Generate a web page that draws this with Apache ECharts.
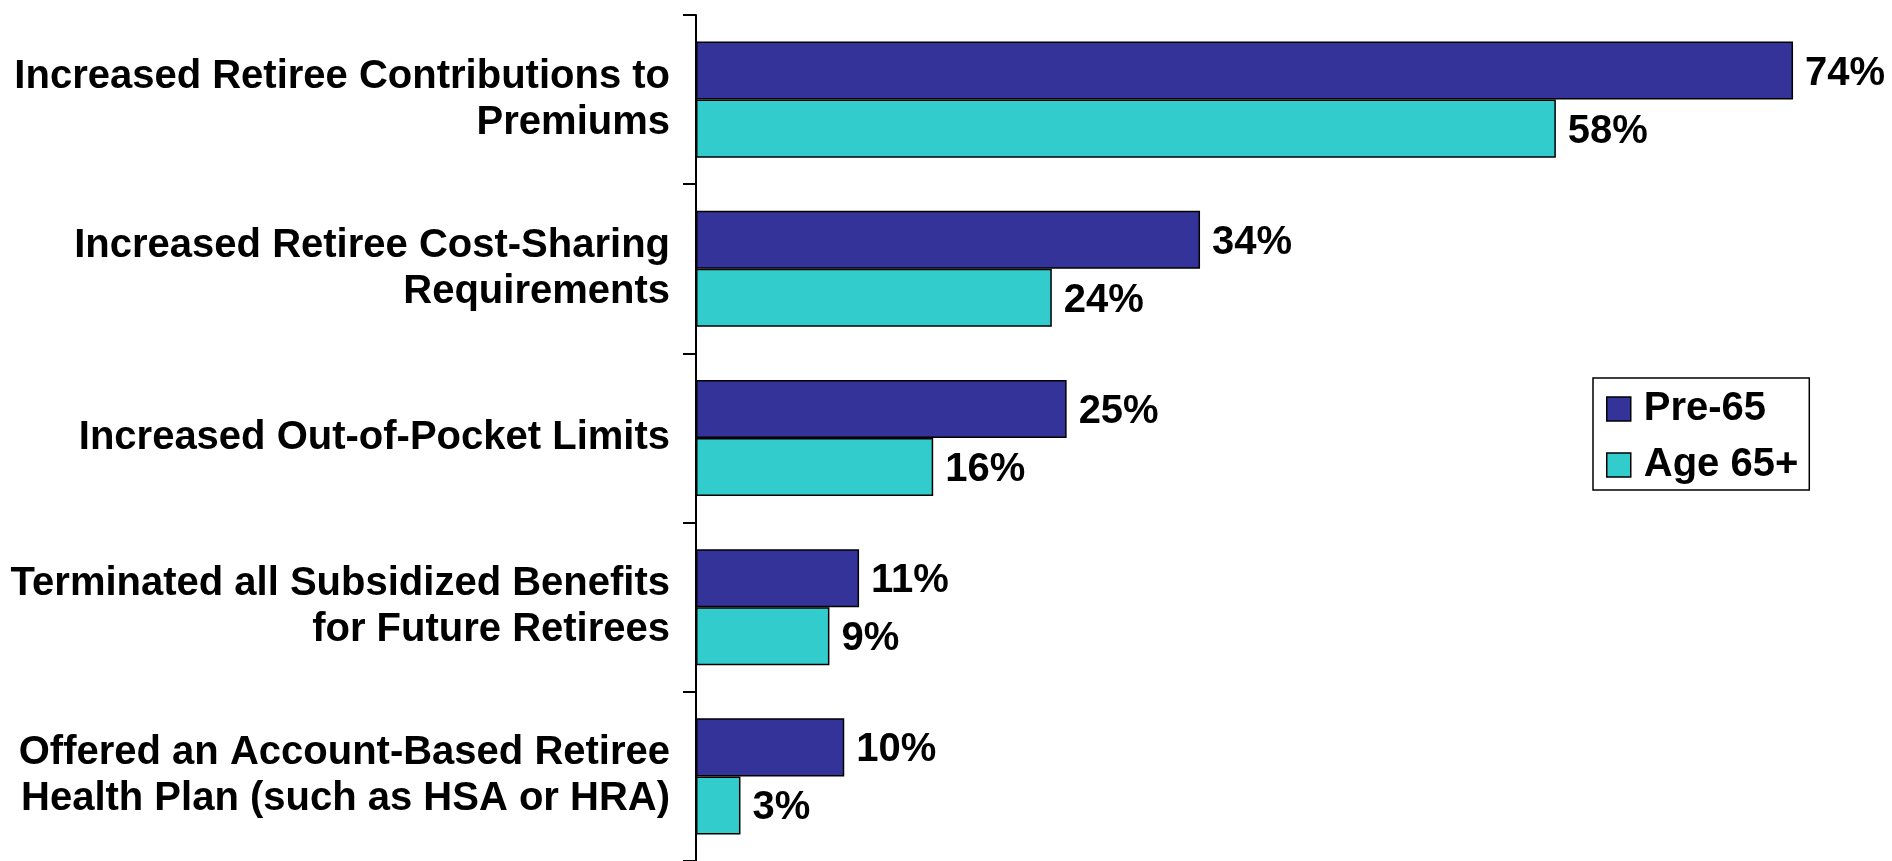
<!DOCTYPE html>
<html>
<head>
<meta charset="utf-8">
<script src="https://cdn.jsdelivr.net/npm/echarts@6/dist/echarts.min.js"></script>
<style>
html,body{margin:0;padding:0;background:#fff;}
#chart{width:1892px;height:861px;}
</style>
</head>
<body>
<div id="chart"></div>
<script>
const categories = [
  "Increased Retiree Contributions to\nPremiums",
  "Increased Retiree Cost-Sharing\nRequirements",
  "Increased Out-of-Pocket Limits",
  "Terminated all Subsidized Benefits\nfor Future Retirees",
  "Offered an Account-Based Retiree\nHealth Plan (such as HSA or HRA)"
];
const seriesNames = ["Pre-65", "Age 65+"];
const pre65 = [74, 34, 25, 11, 10];
const age65 = [58, 24, 16, 9, 3];
const colors = ["#333399", "#33CCCC"];

const font = '"Liberation Sans", Arial, sans-serif';
const chart = echarts.init(document.getElementById('chart'));

function barSeries(name, data, color) {
  return {
    name: name,
    type: 'bar',
    data: data,
    barGap: '0%',
    barCategoryGap: '31.4%',
    itemStyle: { color: color, borderColor: '#000', borderWidth: 1.5 },
    label: {
      show: true,
      position: 'right',
      distance: 12,
      offset: [0, 3],
      formatter: '{c}%',
      color: '#000',
      fontFamily: font,
      fontWeight: 'bold',
      fontSize: 40
    },
    animation: false
  };
}

chart.setOption({
  animation: false,
  backgroundColor: '#fff',
  grid: { left: 696, top: 15, width: 1186, height: 853, containLabel: false },
  xAxis: {
    type: 'value', min: 0, max: 80, show: false
  },
  yAxis: {
    type: 'category',
    data: categories,
    inverse: true,
    axisLine: { show: true, lineStyle: { color: '#000', width: 2 } },
    axisTick: { show: true, length: 13, lineStyle: { color: '#000', width: 2 } },
    axisLabel: {
      margin: 26,
      color: '#000',
      fontFamily: font,
      fontWeight: 'bold',
      fontSize: 40,
      lineHeight: 46,
      align: 'right'
    },
    splitLine: { show: false }
  },
  legend: {
    data: seriesNames,
    orient: 'vertical',
    left: 1593,
    top: 378,
    padding: [11, 11, 5, 13],
    itemGap: 16,
    itemWidth: 24,
    itemHeight: 24,
    icon: 'rect',
    borderColor: '#000',
    borderWidth: 1.5,
    itemStyle: { borderColor: '#000', borderWidth: 1.5 },
    textStyle: {
      color: '#000',
      fontFamily: font,
      fontWeight: 'bold',
      fontSize: 40,
      lineHeight: 40,
      padding: [0, 0, 0, 8]
    }
  },
  series: [
    barSeries(seriesNames[0], pre65, colors[0]),
    barSeries(seriesNames[1], age65, colors[1])
  ]
});
</script>
</body>
</html>
